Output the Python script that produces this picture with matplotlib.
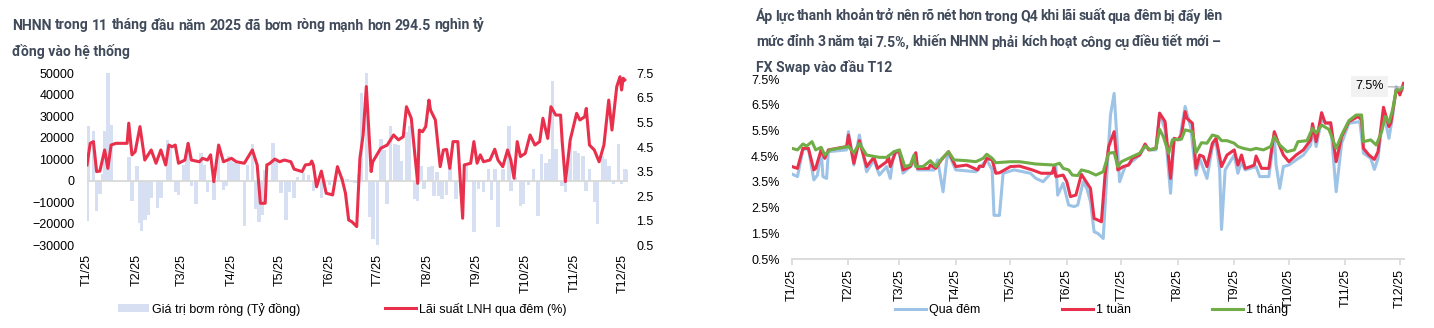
import pandas as pd
import matplotlib
matplotlib.use("Agg")
import matplotlib.pyplot as plt
from matplotlib import font_manager
from matplotlib.lines import Line2D
from matplotlib.patches import Patch

plt.rcParams["font.family"] = ["Liberation Sans", "DejaVu Sans"]
installed = {f.name for f in font_manager.fontManager.ttflist}
TITLE_FONT = "Roboto" if "Roboto" in installed else "Liberation Sans"

START = pd.Timestamp("2025-01-01")
W, H = 1434, 328

# ---------------- left panel: net injection (bars) + overnight rate (line)
# day = days since 2025-01-01
inj_day = [0, 1, 4, 6, 8, 10, 11, 13, 15,
           26, 28, 31, 33, 34, 36, 38, 40,
           44, 46, 50, 52, 55, 57, 60, 62, 63, 65,
           68, 71, 73, 75, 79, 82, 85, 87, 88, 90,
           92, 94, 98, 100, 103, 105, 107, 109, 111, 116,
           118, 121, 124, 126, 129, 131, 135, 138, 141, 146,
           148, 151, 159, 162, 167, 169, 171, 174, 176, 178,
           181, 183, 185, 187, 189, 192, 194, 196, 199, 201,
           204, 206, 208, 210, 213, 215, 216, 218, 219, 221,
           224, 226, 230, 233, 236, 241, 244, 247, 250, 252,
           254, 256, 259, 263, 264, 267, 270, 272, 275, 278,
           281, 283, 286, 288, 290, 292, 296, 298, 301, 304,
           306, 309, 311, 313, 316, 318, 321, 323, 325, 328,
           331, 333, 335, 336]
inj_value = [-18900, 25300, 23000, -14000, -6000, 3000, 23000, 50000, 26000,
             11000, -9600, 6700, -19400, -23500, -18000, -15800, -8000,
             -12700, -8000, 19000, 16700, -5000, -6500, 7400, 14700, 17800, -2600,
             -11000, 12800, 7400, -5000, -8800, 13500, -4200, -2600, 11600, 9000,
             8200, 7700, -21000, 7400, 17000, -13000, -19000, -15800, 5000, 17500,
             10000, -5700, -18000, -5000, -8000, 2000, 3500, 2500, -4600, -8000,
             -2000, -2000, 1500, 1000, -1000, 3000, 41000, 50500, -17000, -27000,
             -29700, 19400, 14400, -10800, 25300, 17000, 16700, 9300, 22500, 25600,
             -8500, -9600, 7000, -4000, 6200, 6700, -7300, 4000, -7000, -8500,
             -6500, 6200, -8500, -6200, 7000, -24000, -4000, -5000, 5500, -9000,
             5500, -21700, 5500, 25600, -4600, 2000, -11600, -11000, -2000, 5500,
             -16300, 12400, 8500, 10000, 46500, 14700, -2300, -5400, 17800, 14000,
             13000, 11600, -4600, 5500, -10000, -20000, 11600, 10000, 7000, -1500,
             17000, -1500, 5400, 5000]

ovn_day = [0, 2, 4, 6, 8, 11, 13, 15, 18, 25,
           26, 28, 30, 33, 36, 40, 43, 46, 49, 51,
           53, 55, 57, 61, 63, 65, 70, 72, 75, 77,
           79, 82, 85, 90, 93, 98, 103, 106, 108, 111,
           112, 114, 117, 120, 123, 127, 129, 134, 136, 139,
           140, 141, 143, 146, 149, 153, 156, 159, 161, 163,
           165, 168, 170, 172, 174, 177, 178, 183, 187, 191,
           194, 197, 199, 202, 206, 207, 209, 211, 213, 214,
           217, 220, 222, 224, 226, 228, 231, 234, 235, 239,
           241, 243, 245, 247, 251, 254, 256, 259, 262, 264,
           266, 268, 270, 273, 276, 279, 282, 284, 287, 289,
           292, 295, 296, 298, 301, 305, 307, 310, 311, 313,
           316, 319, 322, 325, 327, 330, 332, 333, 334, 335]
ovn_rate = [3.77, 4.65, 4.72, 3.50, 3.52, 4.38, 3.63, 4.58, 4.65, 4.65,
            5.47, 4.18, 4.31, 5.33, 3.97, 4.38, 3.84, 4.38, 3.77, 4.58,
            4.51, 4.58, 3.84, 3.97, 4.65, 3.97, 3.90, 4.04, 3.97, 4.18,
            3.09, 4.58, 3.90, 4.04, 3.90, 3.84, 4.38, 3.77, 2.21, 2.21,
            3.77, 3.84, 4.01, 3.90, 3.97, 3.90, 3.60, 3.50, 3.77, 3.80,
            3.93, 3.77, 2.88, 3.52, 2.62, 2.55, 3.70, 3.16, 2.62, 1.53,
            1.46, 1.26, 4.04, 4.99, 6.96, 3.50, 3.90, 4.45, 4.58, 4.99,
            4.79, 4.92, 6.14, 5.67, 3.02, 5.19, 5.12, 5.33, 6.41, 6.00,
            5.60, 3.70, 4.38, 4.40, 3.63, 4.72, 4.72, 1.60, 3.77, 3.84,
            4.72, 3.84, 4.18, 3.90, 3.97, 4.41, 3.97, 3.70, 4.38, 3.97,
            3.23, 4.72, 4.11, 4.24, 4.99, 4.58, 4.72, 5.67, 4.85, 6.14,
            5.80, 5.80, 4.72, 3.09, 4.79, 5.87, 5.60, 5.73, 6.07, 4.58,
            4.38, 3.90, 4.58, 6.41, 5.19, 6.96, 7.36, 6.82, 7.30, 7.23]

# ---------------- right panel: interbank rates (%)
on_day = [0, 3, 6, 9, 12, 14, 16, 17, 19, 20,
          30, 31, 34, 37, 41, 45, 48, 52, 54, 56,
          59, 61, 66, 68, 69, 78, 80, 83, 85, 86,
          90, 101, 107, 110, 111, 114, 116, 122, 131, 134,
          138, 143, 145, 146, 149, 152, 155, 157, 160, 162,
          164, 166, 168, 171, 173, 175, 177, 179, 180, 183,
          188, 191, 194, 197, 200, 202, 205, 208, 210, 213,
          216, 219, 222, 224, 228, 231, 233, 235, 236, 238,
          243, 245, 247, 249, 255, 257, 262, 265, 266, 268,
          270, 273, 277, 281, 285, 286, 288, 291, 296, 299,
          302, 306, 312, 314, 318, 320, 322, 325, 328, 330,
          332, 334, 336]
on_rate = [3.81, 3.71, 4.75, 4.81, 3.58, 3.77, 4.75, 3.71, 3.64, 4.68,
           4.75, 5.46, 4.16, 5.33, 3.90, 4.36, 3.77, 4.10, 3.64, 4.68,
           4.62, 3.84, 4.16, 4.62, 3.97, 3.97, 4.36, 3.12, 4.36, 4.62,
           3.97, 3.90, 4.36, 3.97, 2.20, 2.20, 3.84, 3.97, 3.84, 3.64,
           3.51, 3.90, 4.10, 2.99, 3.45, 2.60, 2.54, 2.60, 3.51, 3.25,
           2.73, 1.56, 1.50, 1.30, 3.77, 6.11, 6.95, 4.68, 3.51, 4.10,
           4.36, 4.55, 4.88, 4.75, 4.75, 6.18, 5.53, 3.06, 5.20, 5.14,
           6.44, 5.65, 3.77, 4.42, 3.64, 4.88, 5.07, 3.97, 1.65, 3.97,
           4.55, 3.84, 4.29, 3.97, 4.10, 3.71, 3.71, 5.27, 4.16, 3.25,
           4.10, 4.16, 4.36, 4.55, 4.94, 5.59, 4.88, 5.92, 5.72, 3.12,
           5.01, 5.79, 5.85, 4.62, 4.42, 3.99, 4.42, 6.24, 5.20, 6.05,
           7.21, 6.95, 7.15]

w1_day = [0, 3, 6, 9, 12, 13, 16, 18, 20, 30,
          31, 34, 37, 41, 45, 47, 52, 53, 54, 57,
          59, 61, 65, 68, 69, 75, 76, 79, 82, 86,
          90, 96, 102, 103, 105, 107, 110, 112, 114, 120,
          125, 132, 137, 143, 144, 145, 149, 151, 153, 156,
          159, 161, 164, 166, 168, 170, 172, 174, 177, 179,
          182, 185, 187, 191, 194, 196, 200, 202, 205, 208,
          210, 212, 214, 216, 217, 220, 222, 224, 226, 228,
          231, 233, 236, 239, 243, 245, 247, 249, 252, 254,
          255, 258, 262, 265, 267, 270, 273, 277, 281, 285,
          286, 288, 291, 293, 296, 299, 302, 306, 311, 313,
          314, 317, 320, 322, 325, 328, 329, 332, 333, 334,
          336]
w1_rate = [4.10, 4.03, 4.81, 4.81, 3.97, 4.03, 4.75, 4.42, 4.75, 4.88,
           5.33, 4.23, 5.11, 4.10, 4.46, 4.03, 4.29, 4.51, 4.10, 4.68,
           4.68, 3.97, 4.10, 4.64, 4.03, 4.03, 4.16, 4.03, 4.36, 4.68,
           4.10, 4.16, 3.97, 4.12, 4.10, 4.42, 4.36, 3.84, 3.86, 4.10,
           4.12, 3.97, 3.84, 3.84, 4.10, 3.71, 3.77, 3.51, 2.93, 2.99,
           3.80, 3.58, 3.25, 2.08, 2.02, 1.95, 3.77, 4.88, 5.46, 3.97,
           4.10, 4.16, 4.42, 4.55, 4.98, 4.75, 4.81, 6.18, 5.85, 3.64,
           5.20, 5.14, 5.33, 6.24, 5.98, 5.79, 4.03, 4.55, 4.49, 4.10,
           5.01, 5.20, 4.10, 4.55, 4.75, 4.16, 4.55, 4.03, 4.10, 4.16,
           4.51, 4.03, 4.03, 5.46, 5.07, 4.55, 4.29, 4.55, 4.75, 5.14,
           5.77, 5.07, 6.20, 5.79, 5.81, 4.29, 5.27, 5.85, 6.05, 5.92,
           4.81, 4.55, 4.38, 4.68, 6.41, 5.66, 5.79, 7.08, 7.08, 6.89,
           7.34]

m1_day = [0, 3, 6, 8, 11, 13, 16, 18, 21, 24,
          31, 34, 37, 41, 48, 52, 56, 59, 62, 65,
          67, 68, 72, 76, 79, 82, 86, 89, 96, 101,
          105, 107, 110, 112, 120, 125, 134, 144, 147, 149,
          152, 154, 157, 159, 163, 167, 171, 174, 177, 179,
          181, 187, 191, 194, 197, 200, 202, 204, 207, 209,
          214, 216, 220, 222, 225, 228, 231, 234, 236, 239,
          243, 245, 248, 252, 255, 259, 263, 265, 268, 272,
          276, 278, 283, 286, 288, 291, 295, 299, 302, 306,
          310, 313, 314, 318, 321, 324, 326, 328, 330, 332,
          334, 336]
m1_rate = [4.81, 4.75, 4.98, 4.90, 5.07, 4.75, 4.85, 4.55, 4.75, 4.79,
           4.88, 4.64, 5.00, 4.55, 4.46, 4.46, 4.68, 4.75, 4.10, 4.16,
           4.55, 4.10, 4.10, 4.33, 4.10, 4.38, 4.68, 4.36, 4.33, 4.29,
           4.42, 4.58, 4.42, 4.25, 4.29, 4.29, 4.20, 4.16, 4.23, 4.03,
           3.97, 3.77, 3.75, 3.97, 3.90, 3.77, 3.90, 4.62, 4.65, 4.10,
           4.29, 4.49, 4.62, 4.90, 4.75, 4.81, 5.55, 5.27, 4.62, 5.14,
           5.17, 5.53, 5.46, 4.64, 5.03, 5.01, 5.33, 5.27, 5.11, 5.11,
           5.01, 4.88, 4.81, 4.75, 4.81, 4.75, 4.88, 5.27, 4.94, 4.68,
           4.75, 5.07, 5.11, 5.59, 5.40, 5.72, 5.55, 4.81, 5.33, 5.89,
           6.11, 6.11, 5.07, 5.14, 4.94, 5.46, 6.05, 5.81, 6.31, 7.08,
           7.08, 7.21]

month_labels = ["T1/25", "T2/25", "T3/25", "T4/25", "T5/25", "T6/25",
                "T7/25", "T8/25", "T9/25", "T10/25", "T11/25", "T12/25"]

BAR = "#d6e0f2"
RED = "#e8304c"
BLUE = "#9dc3e6"
GREEN = "#70ad47"
GREY = "#d9d9d9"
TITLE = "#404a5a"
FS = 9
TFS = 10.1


def to_dates(days):
    return START + pd.to_timedelta(days, unit="D")


month_ticks = pd.date_range("2025-01-01", periods=12, freq="MS")

fig = plt.figure(figsize=(W / 100, H / 100), dpi=100)
renderer = fig.canvas.get_renderer()


def title_line(x0, y, text, x1=None):
    # x0, x1, y in pixels from the top-left; x1 given -> justified line
    kw = dict(fontsize=TFS, fontweight="bold", color=TITLE, va="baseline",
              family=[TITLE_FONT, "Liberation Sans", "DejaVu Sans"])
    if x1 is None:
        fig.text(x0 / W, 1 - y / H, text, **kw)
        return
    words = text.split(" ")
    arts = [fig.text(0, 1 - y / H, w, **kw) for w in words]
    widths = [a.get_window_extent(renderer).width for a in arts]
    gap = (x1 - x0 - sum(widths)) / (len(words) - 1)
    x = x0
    for a, w in zip(arts, widths):
        a.set_x(x / W)
        x += w + gap


title_line(12, 29.5, "NHNN trong 11 tháng đầu năm 2025 đã bơm ròng mạnh hơn 294.5 nghìn tỷ", 485)
title_line(12, 56, "đồng vào hệ thống")
title_line(756, 20.5, "Áp lực thanh khoản trở nên rõ nét hơn trong Q4 khi lãi suất qua đêm bị đẩy lên", 1222)
title_line(756, 46.5, "mức đỉnh 3 năm tại 7.5%, khiến NHNN phải kích hoạt công cụ điều tiết mới –", 1221)
title_line(756, 72, "FX Swap vào đầu T12")

# ---- left chart
ax1 = fig.add_axes([87 / W, (H - 245.3) / H, 541 / W, 172 / H])
ax1.bar(to_dates(inj_day), inj_value, width=2.2, color=BAR, zorder=1)
ax1.axhline(0, color=GREY, lw=1.3, zorder=2)
ax1.set_ylim(-30000, 50000)
ax1.set_yticks(range(-30000, 50001, 10000))
ax1.set_xlim(START, START + pd.Timedelta(days=337))
ax1.set_xticks(month_ticks)
ax1.set_xticklabels(month_labels, rotation=90)
for s in ax1.spines.values():
    s.set_visible(False)
ax1.tick_params(length=0, labelsize=FS)
ax1.tick_params(axis="y", pad=9)
ax1.tick_params(axis="x", pad=6)

ax1b = ax1.twinx()
ax1b.plot(to_dates(ovn_day), ovn_rate, color=RED, lw=2.2)
ax1b.set_ylim(0.5, 7.5)
rticks = [0.5, 1.5, 2.5, 3.5, 4.5, 5.5, 6.5, 7.5]
ax1b.set_yticks(rticks)
ax1b.set_yticklabels([f"{v:.1f}" for v in rticks])
for s in ax1b.spines.values():
    s.set_visible(False)
ax1b.tick_params(length=0, labelsize=FS, pad=6)

# ---- right chart
ax2 = fig.add_axes([792 / W, (H - 259) / H, 611.5 / W, 179.7 / H])
ax2.plot(to_dates(on_day), on_rate, color=BLUE, lw=2.2)
ax2.plot(to_dates(w1_day), w1_rate, color=RED, lw=2.2)
ax2.plot(to_dates(m1_day), m1_rate, color=GREEN, lw=2.2)
ax2.set_ylim(0.5, 7.5)
ax2.set_yticks(rticks)
ax2.set_yticklabels([f"{v:.1f}%" for v in rticks])
ax2.set_xlim(START, START + pd.Timedelta(days=336))
ax2.set_xticks(month_ticks)
ax2.set_xticklabels(month_labels, rotation=90)
for name, s in ax2.spines.items():
    s.set_visible(name == "bottom")
ax2.spines["bottom"].set_color(GREY)
ax2.spines["bottom"].set_linewidth(1.3)
ax2.tick_params(axis="x", length=4, color=GREY, width=1.2, pad=3, labelsize=FS)
ax2.tick_params(axis="y", length=0, pad=9, labelsize=FS)

ax2.annotate("7.5%", xy=(to_dates([335])[0], 7.2), xytext=(to_dates([317.5])[0], 7.22),
             fontsize=FS, ha="center", va="center",
             bbox=dict(boxstyle="square,pad=0.35", fc="#f2f2f2", ec="none"),
             arrowprops=dict(arrowstyle="-", color="#a6a6a6", lw=0.8,
                             shrinkA=0, shrinkB=0))

# ---- legends
leg_kw = dict(loc="center left", frameon=False, borderpad=0, borderaxespad=0,
              fontsize=FS, handlelength=2.5, handletextpad=0.25)
fig.legend(handles=[Patch(facecolor=BAR, edgecolor="none")],
           labels=["Giá trị bơm ròng (Tỷ đồng)"],
           bbox_to_anchor=(118 / W, 1 - 309 / H), handleheight=0.6, **leg_kw)
fig.legend(handles=[Line2D([], [], color=RED, lw=2.2)],
           labels=["Lãi suất LNH qua đêm (%)"],
           bbox_to_anchor=(385 / W, 1 - 309 / H), **leg_kw)
fig.legend(handles=[Line2D([], [], color=BLUE, lw=2.2)], labels=["Qua đêm"],
           bbox_to_anchor=(895 / W, 1 - 310 / H), **leg_kw)
fig.legend(handles=[Line2D([], [], color=RED, lw=2.2)], labels=["1 tuần"],
           bbox_to_anchor=(1062 / W, 1 - 310 / H), **leg_kw)
fig.legend(handles=[Line2D([], [], color=GREEN, lw=2.2)], labels=["1 tháng"],
           bbox_to_anchor=(1212 / W, 1 - 310 / H), **leg_kw)

fig.savefig("out.png", dpi=100)
